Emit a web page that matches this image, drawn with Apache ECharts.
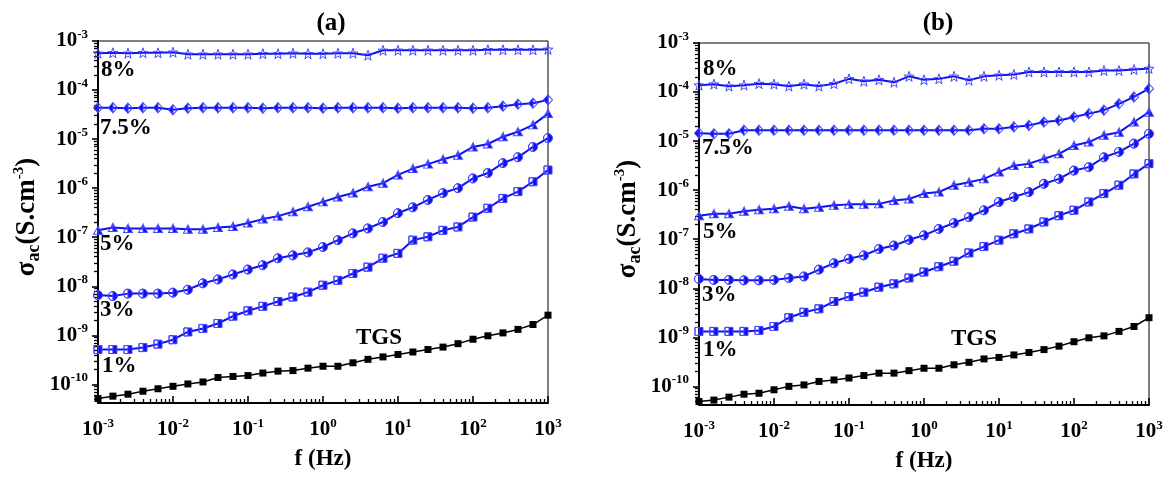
<!DOCTYPE html>
<html><head><meta charset="utf-8">
<script src="https://cdn.jsdelivr.net/npm/echarts@6/dist/echarts.min.js"></script>
<style>html,body{margin:0;padding:0;background:#fff}#c{width:1173px;height:479px}</style>
</head><body><div id="c"></div>
<script>
// ---------- data ----------
const freqHz = [0.001,0.00158,0.00251,0.00398,0.00631,0.01,0.0158,0.0251,0.0398,0.0631,0.1,0.158,0.251,0.398,0.631,1,1.58,2.51,3.98,6.31,10,15.8,25.1,39.8,63.1,100,158,251,398,631,1000];

const seriesNames = ['TGS','1%','3%','5%','7.5%','8%'];

// panel (a)
const aTGS = [5.13e-11,5.75e-11,6.31e-11,7.24e-11,8.13e-11,9.12e-11,1.02e-10,1.12e-10,1.38e-10,1.45e-10,1.51e-10,1.70e-10,1.86e-10,1.91e-10,2.14e-10,2.34e-10,2.34e-10,2.75e-10,3.24e-10,3.63e-10,4.07e-10,4.57e-10,5.13e-10,5.75e-10,6.76e-10,8.32e-10,9.77e-10,1.12e-9,1.32e-9,1.66e-9,2.57e-9];
const a1 = [5.13e-10,5.13e-10,5.13e-10,5.62e-10,6.61e-10,8.13e-10,1.17e-9,1.38e-9,1.74e-9,2.45e-9,3.16e-9,3.89e-9,4.90e-9,6.03e-9,7.59e-9,1.05e-8,1.32e-8,1.82e-8,2.45e-8,3.72e-8,4.68e-8,8.71e-8,1.02e-7,1.38e-7,1.62e-7,2.57e-7,3.89e-7,6.17e-7,8.51e-7,1.35e-6,2.34e-6];
const a3 = [6.61e-9,6.31e-9,7.08e-9,7.08e-9,7.08e-9,7.41e-9,8.51e-9,1.15e-8,1.38e-8,1.74e-8,2.19e-8,2.69e-8,3.72e-8,4.27e-8,4.90e-8,6.31e-8,8.71e-8,1.20e-7,1.51e-7,2.04e-7,3.09e-7,4.07e-7,5.75e-7,7.94e-7,1.00e-6,1.58e-6,2.04e-6,3.24e-6,4.27e-6,6.92e-6,1.05e-5];
const a5 = [1.38e-7,1.58e-7,1.51e-7,1.51e-7,1.51e-7,1.51e-7,1.45e-7,1.45e-7,1.58e-7,1.66e-7,1.95e-7,2.34e-7,2.69e-7,3.31e-7,4.17e-7,5.25e-7,6.61e-7,7.94e-7,1.07e-6,1.26e-6,1.86e-6,2.51e-6,3.09e-6,3.89e-6,4.68e-6,6.92e-6,7.94e-6,1.12e-5,1.41e-5,1.95e-5,3.31e-5];
const a75 = [4.37e-5,4.37e-5,4.27e-5,4.37e-5,4.37e-5,3.98e-5,4.27e-5,4.37e-5,4.37e-5,4.37e-5,4.37e-5,4.27e-5,4.37e-5,4.37e-5,4.37e-5,4.27e-5,4.37e-5,4.37e-5,4.37e-5,4.37e-5,4.27e-5,4.37e-5,4.37e-5,4.37e-5,4.37e-5,4.27e-5,4.37e-5,4.68e-5,5.13e-5,5.37e-5,6.31e-5];
const a8 = [5.62e-4,5.75e-4,5.62e-4,5.75e-4,5.75e-4,5.89e-4,5.37e-4,5.37e-4,5.37e-4,5.37e-4,5.37e-4,5.50e-4,5.50e-4,5.62e-4,5.50e-4,5.50e-4,5.62e-4,5.62e-4,5.13e-4,6.46e-4,6.46e-4,6.46e-4,6.46e-4,6.46e-4,6.46e-4,6.46e-4,6.61e-4,6.61e-4,6.61e-4,6.61e-4,6.76e-4];

// panel (b)
const bTGS = [4.90e-11,5.25e-11,6.03e-11,6.92e-11,7.24e-11,8.51e-11,1.00e-10,1.07e-10,1.26e-10,1.35e-10,1.48e-10,1.66e-10,1.86e-10,1.86e-10,2.09e-10,2.34e-10,2.34e-10,2.75e-10,3.09e-10,3.63e-10,3.89e-10,4.37e-10,4.90e-10,5.62e-10,6.61e-10,8.13e-10,9.77e-10,1.07e-9,1.32e-9,1.66e-9,2.51e-9];
const b1 = [1.32e-9,1.32e-9,1.32e-9,1.32e-9,1.38e-9,1.66e-9,2.51e-9,3.24e-9,3.80e-9,5.37e-9,6.76e-9,8.32e-9,1.05e-8,1.23e-8,1.62e-8,2.14e-8,2.75e-8,3.55e-8,5.25e-8,7.08e-8,9.55e-8,1.29e-7,1.62e-7,2.24e-7,3.02e-7,3.89e-7,5.75e-7,8.51e-7,1.26e-6,2.14e-6,3.47e-6];
const b3 = [1.55e-8,1.48e-8,1.48e-8,1.45e-8,1.45e-8,1.48e-8,1.62e-8,1.74e-8,2.40e-8,3.24e-8,3.98e-8,4.68e-8,6.31e-8,7.41e-8,9.77e-8,1.20e-7,1.62e-7,2.14e-7,2.82e-7,3.89e-7,5.75e-7,7.24e-7,9.12e-7,1.35e-6,1.70e-6,2.51e-6,2.95e-6,4.68e-6,6.03e-6,8.91e-6,1.41e-5];
const b5 = [3.02e-7,3.31e-7,3.31e-7,3.72e-7,3.98e-7,4.17e-7,4.68e-7,4.17e-7,4.47e-7,4.90e-7,5.13e-7,5.13e-7,5.25e-7,6.17e-7,6.61e-7,8.51e-7,9.12e-7,1.26e-6,1.45e-6,1.70e-6,2.34e-6,3.16e-6,3.47e-6,4.37e-6,5.50e-6,8.13e-6,9.55e-6,1.32e-5,1.51e-5,2.45e-5,3.89e-5];
const b75 = [1.45e-5,1.41e-5,1.41e-5,1.66e-5,1.66e-5,1.66e-5,1.66e-5,1.66e-5,1.66e-5,1.66e-5,1.66e-5,1.66e-5,1.66e-5,1.66e-5,1.66e-5,1.66e-5,1.66e-5,1.66e-5,1.66e-5,1.78e-5,1.78e-5,1.95e-5,2.09e-5,2.45e-5,2.63e-5,3.09e-5,3.63e-5,4.27e-5,5.75e-5,7.94e-5,1.17e-4];
const b8 = [1.38e-4,1.45e-4,1.32e-4,1.38e-4,1.48e-4,1.45e-4,1.32e-4,1.45e-4,1.32e-4,1.48e-4,1.86e-4,1.66e-4,1.78e-4,1.58e-4,2.09e-4,1.78e-4,1.86e-4,2.09e-4,1.74e-4,2.09e-4,2.19e-4,2.29e-4,2.57e-4,2.57e-4,2.57e-4,2.57e-4,2.57e-4,2.75e-4,2.75e-4,2.88e-4,3.02e-4];

// tick labels (decade exponents)
const xTickExps = [-3,-2,-1,0,1,2,3];
const yTickExps = [-10,-9,-8,-7,-6,-5,-4,-3];
const panelTitles = ['(a)','(b)'];

// ---------- styling / layout ----------
const FONT = "'Liberation Serif','Times New Roman',serif";
const BLUE = '#1010f0';
const BLUE_EDGE = '#4646ff';
const Y_MIN = -10.38, Y_MAX = -3;

const SYM = {
  star: 'path://M0,-10L2.35,-3.24L9.51,-3.09L3.8,1.24L5.88,8.09L0,4L-5.88,8.09L-3.8,1.24L-9.51,-3.09L-2.35,-3.24Z',
  diamond: 'path://M0,-10L-8,0L0,10L8,0ZM0,-10L8,0L0,10Z',
  tri: 'path://M0,-10L10,8L-10,8ZM0,-10L-10,8L0,8Z',
  circle: 'path://M0,-10A10,10,0,1,1,0,10A10,10,0,1,1,0,-10ZM0,-10A10,10,0,0,0,0,10Z',
  square: 'path://M-10,-10L10,-10L10,10L-10,10ZM-10,-10L-10,10L0,10L0,-10Z'
};

const grids = [
  {left: 98, top: 41, width: 450, height: 362},
  {left: 699, top: 43, width: 450, height: 362}
];

function minorValues(exps, lo, hi) {
  const out = [];
  for (let i = 0; i < exps.length; i++) {
    for (let k = 2; k <= 9; k++) {
      const v = exps[i] + Math.log10(k);
      if (v > lo && v < hi) out.push(v);
    }
  }
  return out;
}
const xMinor = minorValues([-3,-2,-1,0,1,2], -3, 3);
const yMinor = minorValues([-11,-10,-9,-8,-7,-6,-5,-4], Y_MIN, Y_MAX);

const tickRich = {
  b: {fontSize: 21, fontWeight: 'bold', fontFamily: FONT, color: '#000', lineHeight: 26},
  s: {fontSize: 13, fontWeight: 'bold', fontFamily: FONT, color: '#000', lineHeight: 12, verticalAlign: 'top'}
};
const powFmt = v => '{b|10}{s|' + Math.round(v) + '}';

const xAxes = [], yAxes = [], series = [], graphics = [];

grids.forEach((g, gi) => {
  xAxes.push({
    type: 'value', gridIndex: gi, position: 'bottom', min: -3, max: 3,
    axisLine: {onZero: false, lineStyle: {color: '#000', width: 2}},
    axisTick: {show: true, inside: true, length: 7, customValues: xTickExps, lineStyle: {color: '#000', width: 1.6}},
    axisLabel: {customValues: xTickExps, margin: 14, formatter: powFmt, rich: tickRich},
    splitLine: {show: false},
    name: 'f (Hz)', nameLocation: 'middle', nameGap: 45,
    nameTextStyle: {fontFamily: FONT, fontWeight: 'bold', fontSize: 23, color: '#000'}
  });
  xAxes.push({
    type: 'value', gridIndex: gi, position: 'bottom', min: -3, max: 3,
    axisLine: {show: false, onZero: false},
    axisTick: {show: true, inside: true, length: 4, customValues: xMinor, lineStyle: {color: '#000', width: 1.3}},
    axisLabel: {show: false}, splitLine: {show: false}
  });
  yAxes.push({
    type: 'value', gridIndex: gi, position: 'left', min: Y_MIN, max: Y_MAX,
    axisLine: {onZero: false, lineStyle: {color: '#000', width: 2}},
    axisTick: {show: true, inside: false, length: 6, customValues: yTickExps, lineStyle: {color: '#000', width: 1.6}},
    axisLabel: {customValues: yTickExps, margin: 10, formatter: powFmt, rich: tickRich},
    splitLine: {show: false},
    name: '{m|σ}{sub|ac}{m|(S.cm}{sup|-3}{m|)}', nameLocation: 'middle', nameGap: 55, nameRotate: 90,
    nameTextStyle: {
      padding: [0, 0, 0, 10],
      rich: {
        m: {fontFamily: FONT, fontWeight: 'bold', fontSize: 27, color: '#000', lineHeight: 31},
        sub: {fontFamily: FONT, fontWeight: 'bold', fontSize: 18, color: '#000', lineHeight: 14, verticalAlign: 'bottom'},
        sup: {fontFamily: FONT, fontWeight: 'bold', fontSize: 15, color: '#000', lineHeight: 12, verticalAlign: 'top'}
      }
    }
  });
  yAxes.push({
    type: 'value', gridIndex: gi, position: 'left', min: Y_MIN, max: Y_MAX,
    axisLine: {show: false, onZero: false},
    axisTick: {show: true, inside: false, length: 4, customValues: yMinor, lineStyle: {color: '#000', width: 1.3}},
    axisLabel: {show: false}, splitLine: {show: false}
  });
});

const panelData = [[aTGS, a1, a3, a5, a75, a8], [bTGS, b1, b3, b5, b75, b8]];
const symbols = [['rect', [7, 7]], [SYM.square, [8, 8]], [SYM.circle, [9, 9]], [SYM.tri, [9, 8]], [SYM.diamond, [9, 10]], [SYM.star, [10, 10]]];

panelData.forEach((arrs, gi) => {
  arrs.forEach((vals, si) => {
    const isTGS = si === 0;
    const col = isTGS ? '#000' : BLUE;
    series.push({
      type: 'line', name: seriesNames[si],
      xAxisIndex: gi * 2, yAxisIndex: gi * 2,
      data: freqHz.map((f, i) => [Math.log10(f), Math.log10(vals[i])]),
      symbol: symbols[si][0], symbolSize: symbols[si][1], showAllSymbol: true,
      lineStyle: {color: col, width: isTGS ? 1.5 : 2},
      itemStyle: {
        color: si === 5 ? 'rgba(255,255,255,0)' : col,
        borderColor: isTGS ? col : BLUE_EDGE, borderWidth: isTGS ? 0 : 1
      },
      emphasis: {disabled: true},
      z: 3
    });
  });
});

function txt(text, x, y, size, align) {
  return {
    type: 'text', x: x, y: y, z: 10,
    style: {
      text: text, font: 'bold ' + size + 'px ' + FONT, fill: '#000',
      align: align, verticalAlign: 'middle', textAlign: align, textVerticalAlign: 'middle'
    }
  };
}
// panel titles
graphics.push(txt(panelTitles[0], 331, 24, 25, 'center'));
graphics.push(txt(panelTitles[1], 938, 24, 25, 'center'));
// curve annotations, panel (a)
graphics.push(txt('8%', 101, 70, 23, 'left'));
graphics.push(txt('7.5%', 100, 128, 23, 'left'));
graphics.push(txt('5%', 100, 244, 23, 'left'));
graphics.push(txt('3%', 100, 310, 23, 'left'));
graphics.push(txt('1%', 102, 366, 23, 'left'));
graphics.push(txt('TGS', 379, 338, 23, 'center'));
// curve annotations, panel (b)
graphics.push(txt('8%', 703, 69, 23, 'left'));
graphics.push(txt('7.5%', 702, 148, 23, 'left'));
graphics.push(txt('5%', 703, 232, 23, 'left'));
graphics.push(txt('3%', 702, 295, 23, 'left'));
graphics.push(txt('1%', 703, 350, 23, 'left'));
graphics.push(txt('TGS', 974, 339, 23, 'center'));

const chart = echarts.init(document.getElementById('c'), null, {renderer: 'canvas'});
chart.setOption({
  animation: false,
  backgroundColor: '#fff',
  grid: grids.map(g => Object.assign({show: true, borderColor: '#000', borderWidth: 1, containLabel: false}, g)),
  xAxis: xAxes,
  yAxis: yAxes,
  series: series,
  graphic: graphics
});
</script>
</body></html>
